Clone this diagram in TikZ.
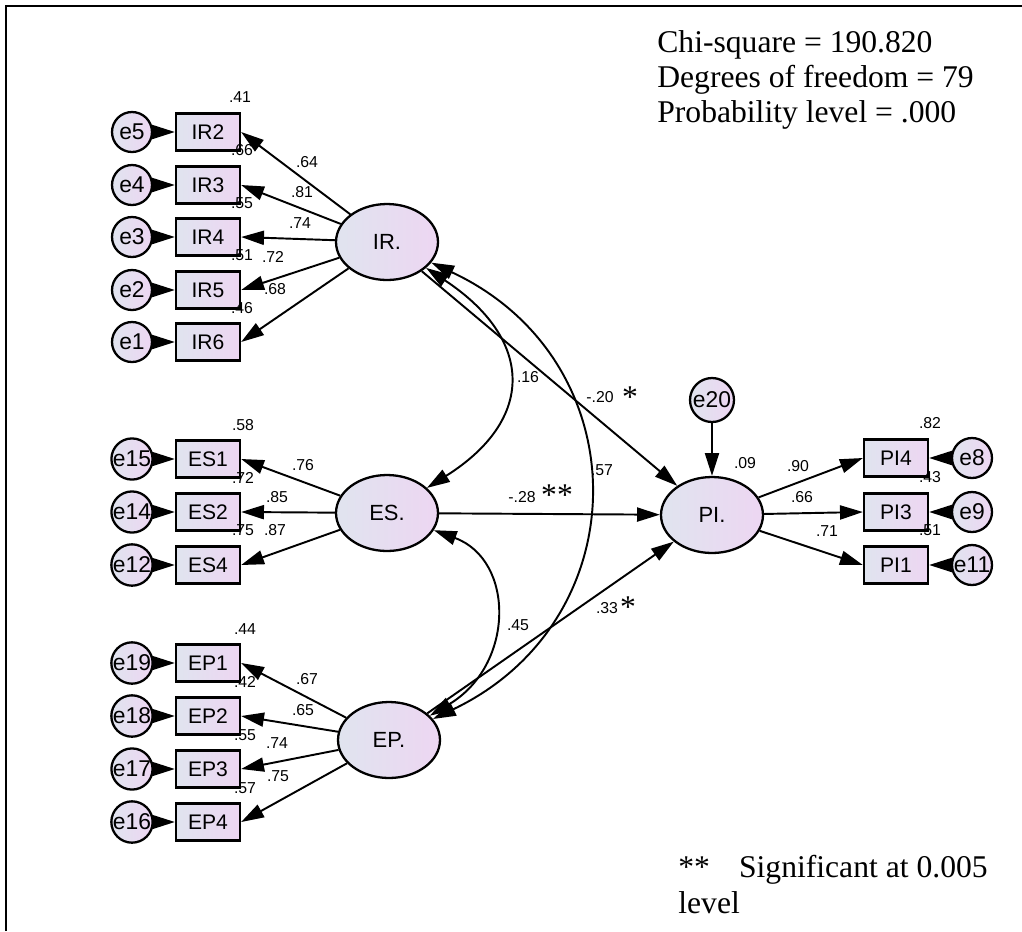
\documentclass[tikz,border=0pt]{standalone}
\usepackage{fontspec}
\setmainfont{Liberation Serif}
\setsansfont{Liberation Sans}
\usetikzlibrary{arrows.meta,shapes.geometric}
\definecolor{shadeL}{HTML}{E0E4EF}
\definecolor{shadeR}{HTML}{EDD6F2}

\begin{document}
\begin{tikzpicture}[x=0.02cm,y=-0.02cm,>={Triangle[length=13pt,width=8pt]},
  obs/.style={draw,line width=1.3pt,left color=shadeL,right color=shadeR,
    minimum width=1.28cm,minimum height=0.74cm,inner sep=0pt,
    font=\sffamily\fontsize{12}{14}\selectfont},
  lat/.style={ellipse,draw,line width=1.3pt,left color=shadeL,right color=shadeR,
    minimum width=2.04cm,minimum height=1.52cm,inner sep=0pt,
    font=\sffamily\fontsize{12.5}{14}\selectfont},
  err/.style={circle,draw,line width=1.3pt,left color=shadeL,right color=shadeR,
    minimum size=0.8cm,inner sep=0pt,font=\sffamily\fontsize{13}{14}\selectfont},
  est/.style={inner sep=0pt,font=\sffamily\fontsize{9}{10}\selectfont},
  link/.style={->,line width=1.1pt},
  cov/.style={<->,line width=1.1pt},
  note/.style={inner sep=0pt,font=\rmfamily\fontsize{18}{21}\selectfont}]
  \useasboundingbox (0,0) rectangle (1022,931);
  % frame
  \draw[line width=1.3pt] (6,931) -- (6,6) -- (1022,6);

  % fit statistics
  \node[note,anchor=base west] (chi) at (657,52) {Chi-square = 190.820};
  \node[note,anchor=base west] (dof) at (657,87) {Degrees of freedom = 79};
  \node[note,anchor=base west] (prob) at (657,122) {Probability level = .000};

  % latent variables
  \node[lat] (IR) at (387,242) {IR.};
  \node[lat] (ES) at (387,513) {ES.};
  \node[lat] (EP) at (389,740) {EP.};
  \node[lat] (PI) at (712,515) {PI.};
  \node[err,minimum size=0.88cm] (e20) at (712,400) {e20};
  \draw[link] (e20) -- (PI);

  % indicators
  \foreach \v/\e/\y in {IR2/e5/132,IR3/e4/185,IR4/e3/237,IR5/e2/290,IR6/e1/342,
                        ES1/e15/459,ES2/e14/512,ES4/e12/565,
                        EP1/e19/663,EP2/e18/716,EP3/e17/769,EP4/e16/822} {
    \node[obs] (\v) at (208,\y) {\v};
    \node[err] (\e) at (132,\y) {\e};
    \draw[link] (\e) -- (\v);
  }
  \foreach \v/\e/\y in {PI4/e8/458,PI3/e9/512,PI1/e11/565} {
    \node[obs] (\v) at (896,\y) {\v};
    \node[err] (\e) at (972,\y) {\e};
    \draw[link] (\e) -- (\v);
    \draw[link] (PI) -- (\v.west);
  }
  \foreach \v in {IR2,IR3,IR4,IR5,IR6} \draw[link] (IR) -- (\v.east);
  \foreach \v in {ES1,ES2,ES4} \draw[link] (ES) -- (\v.east);
  \foreach \v in {EP1,EP2,EP3,EP4} \draw[link] (EP) -- (\v.east);

  % structural paths and covariances
  \draw[link] (IR) -- (PI);
  \draw[link] (ES) -- (PI);
  \draw[link] (EP) -- (PI);
  \draw[cov] (IR) .. controls (535,340) and (535,420) .. (ES);
  \draw[cov] (ES) .. controls (515,560) and (515,665) .. (EP);
  \draw[cov] (IR) .. controls (640,360) and (640,620) .. (EP);

  % squared multiple correlations
  \node[est] (r1) at (240,97) {.41};
  \node[est] (r2) at (242,150) {.66};
  \node[est] (r3) at (242,203) {.55};
  \node[est] (r4) at (242,255) {.51};
  \node[est] (r5) at (242,308) {.46};
  \node[est] (r6) at (243,425) {.58};
  \node[est] (r7) at (243,478) {.72};
  \node[est] (r8) at (243,530) {.75};
  \node[est] (r9) at (245,629) {.44};
  \node[est] (r10) at (245,682) {.42};
  \node[est] (r11) at (245,735) {.55};
  \node[est] (r12) at (245,788) {.57};
  \node[est] (r13) at (930,423) {.82};
  \node[est] (r14) at (930,477) {.43};
  \node[est] (r15) at (930,530) {.51};
  \node[est] (r16) at (745,463) {.09};

  % loadings
  \node[est] (w1) at (307,162) {.64};
  \node[est] (w2) at (302,192) {.81};
  \node[est] (w3) at (300,223) {.74};
  \node[est] (w4) at (273,257) {.72};
  \node[est] (w5) at (275,289) {.68};
  \node[est] (w6) at (303,465) {.76};
  \node[est] (w7) at (277,497) {.85};
  \node[est] (w8) at (275,530) {.87};
  \node[est] (w9) at (307,679) {.67};
  \node[est] (w10) at (303,710) {.65};
  \node[est] (w11) at (277,743) {.74};
  \node[est] (w12) at (278,776) {.75};
  \node[est] (w13) at (798,466) {.90};
  \node[est] (w14) at (802,497) {.66};
  \node[est] (w15) at (827,531) {.71};

  % path coefficients and correlations
  \node[est] (c1) at (528,377) {.16};
  \node[est] (c2) at (602,470) {.57};
  \node[est] (c3) at (518,625) {.45};
  \node[est] (b1) at (600,397) {-.20};
  \node[est] (b2) at (522,497) {-.28};
  \node[est] (b3) at (607,608) {.33};
  \node[note,anchor=base] (s1) at (630,407) {*};
  \node[note,anchor=base] (s2) at (557,505) {**};
  \node[note,anchor=base] (s3) at (628,617) {*};

  % footnote
  \node[note,anchor=base west] (fs) at (678,877) {**};
  \node[note,anchor=base east] (ft) at (988,877) {Significant at 0.005};
  \node[note,anchor=base west] (fl) at (678,913) {level};
\end{tikzpicture}
\end{document}
